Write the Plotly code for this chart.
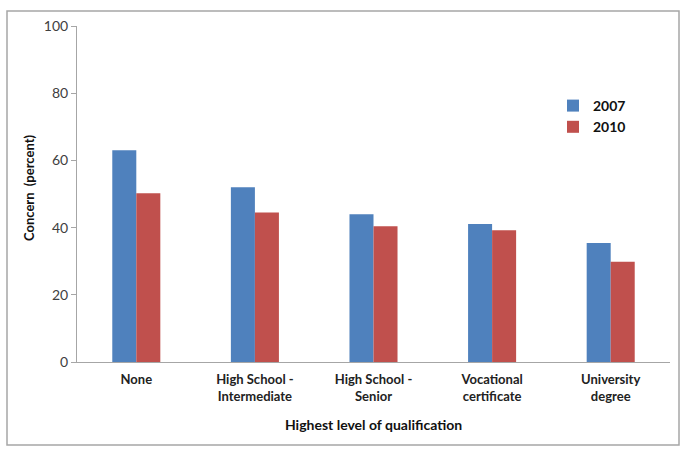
import plotly.graph_objects as go

categories = ["None", "High School -<br>Intermediate", "High School -<br>Senior",
              "Vocational<br>certificate", "University<br>degree"]
values_2007 = [63.0, 52.0, 44.0, 41.1, 35.4]
values_2010 = [50.2, 44.5, 40.4, 39.2, 29.8]
y_ticks = [0, 20, 40, 60, 80, 100]

FONT = "Lato, Liberation Sans, Arial"

fig = go.Figure()
fig.add_trace(go.Bar(x=categories, y=values_2007, name="<b>2007</b>", marker_color="#4F81BD",
                     marker_line_width=0))
fig.add_trace(go.Bar(x=categories, y=values_2010, name="<b>2010</b>", marker_color="#C0504D",
                     marker_line_width=0))

L, T, B, RX = 77, 26, 362, 670
W, H = 685, 452
plot_w = RX - L
plot_h = B - T

def px(x):
    return (x - L) / plot_w

def py(y):
    return (B - y) / plot_h

fig.update_layout(
    width=W, height=H,
    margin=dict(l=L, r=W - RX, t=T, b=H - B),
    paper_bgcolor="white", plot_bgcolor="white",
    barmode="group", bargap=0.595, bargroupgap=0,
    font=dict(family=FONT, size=13, color="#222222"),
    showlegend=True,
    legend=dict(x=px(553), y=py(90), xanchor="left", yanchor="top",
                font=dict(size=14, color="#111111", family=FONT),
                itemwidth=30, bgcolor="rgba(0,0,0,0)"),
    xaxis=dict(showline=True, linecolor="#A6A6A6", linewidth=1, ticks="",
               tickfont=dict(size=13, color="#222222", family=FONT, weight="bold"),
               ticklabelstandoff=5,
               title=dict(text="<b>Highest level of qualification</b>",
                          font=dict(size=14, color="#111111", family=FONT), standoff=17),
               showgrid=False),
    yaxis=dict(range=[0, 100], tickvals=y_ticks, showline=True, linecolor="#A6A6A6",
               linewidth=1, ticks="outside", ticklen=5, tickcolor="#A6A6A6",
               tickfont=dict(size=14, color="#404040"), showgrid=False, zeroline=False),
    annotations=[dict(text="<b>Concern  (percent)</b>", xref="paper", yref="paper",
                      x=px(29), y=py(188), textangle=-90, showarrow=False,
                      xanchor="center", yanchor="middle",
                      font=dict(size=13, color="#111111", family=FONT))],
    shapes=[dict(type="rect", xref="paper", yref="paper",
                 x0=px(7), x1=px(679), y0=py(445), y1=py(11),
                 line=dict(color="#A6A6A6", width=1.5), fillcolor="rgba(0,0,0,0)",
                 layer="below")],
)

fig.write_html("out.html", config={"displayModeBar": False},
               post_script="document.body.style.margin='0';")
